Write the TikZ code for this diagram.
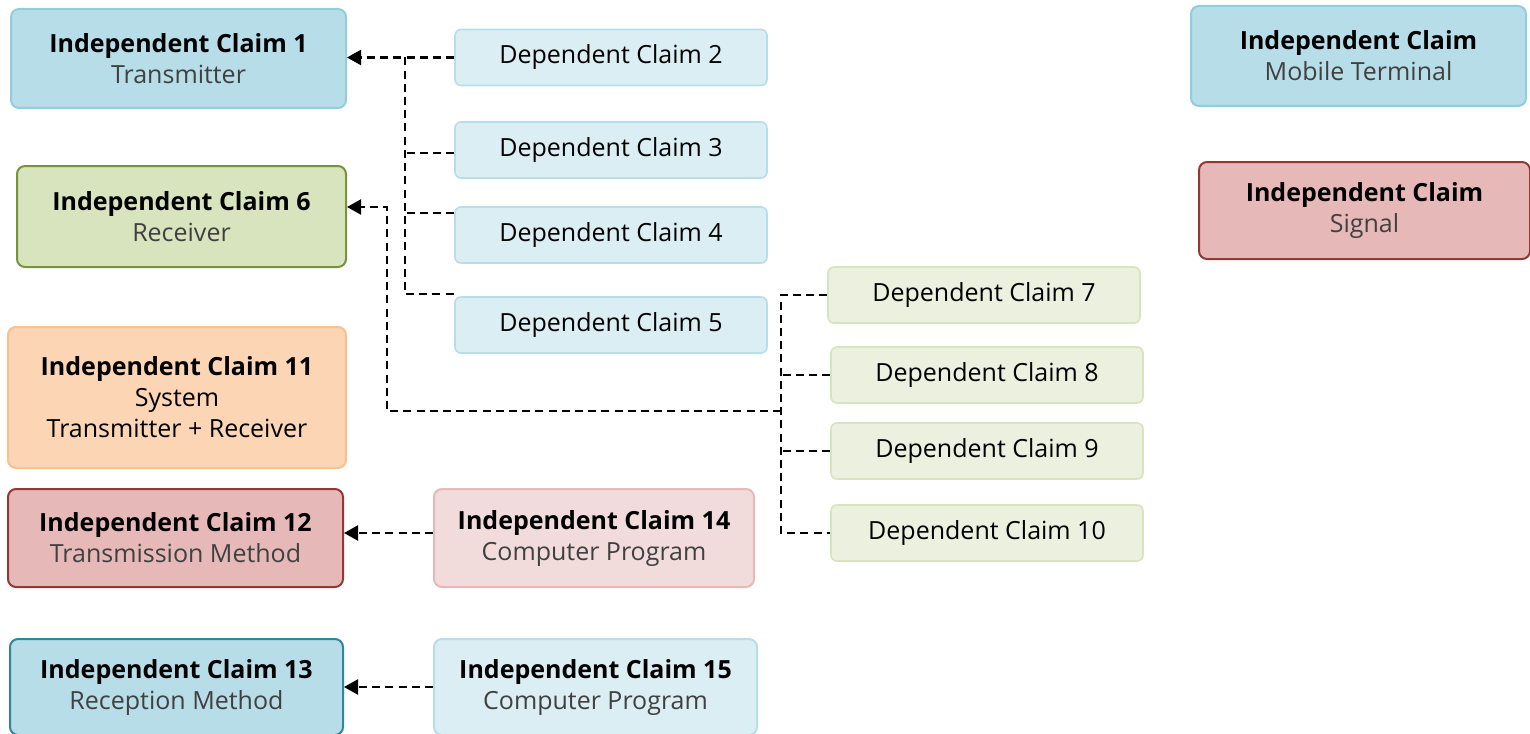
\documentclass[tikz,border=0pt]{standalone}
\usepackage{fontspec}
\setmainfont{Open Sans}
\usepackage{tikz}
\usetikzlibrary{arrows.meta,positioning}
\definecolor{bluF}{HTML}{B7DDE8}
\definecolor{bluE}{HTML}{93CDDD}
\definecolor{bluD}{HTML}{31859C}
\definecolor{grnF}{HTML}{D7E4BD}
\definecolor{grnE}{HTML}{77933C}
\definecolor{orgF}{HTML}{FCD5B5}
\definecolor{orgE}{HTML}{FAC090}
\definecolor{redF}{HTML}{E6B9B8}
\definecolor{redE}{HTML}{953735}
\definecolor{pnkF}{HTML}{F2DCDB}
\definecolor{palB}{HTML}{DBEEF4}
\definecolor{palG}{HTML}{EBF1DE}
\definecolor{subG}{HTML}{404040}

\begin{document}
\begin{tikzpicture}[x=0.5pt,y=-0.5pt,font=\fontsize{12.5}{15.5}\selectfont]
  \tikzset{indep/.style 2 args={draw=#1,fill=#2,line width=1pt,rounded corners=4pt,align=center,inner sep=0pt},
    dep/.style 2 args={draw=#1,fill=#2,line width=0.8pt,rounded corners=3pt,minimum width=156pt,minimum height=28pt,inner sep=0pt},
    link/.style={line width=1.1pt,dash pattern=on 4pt off 2.6pt},
    tip/.style={-{Triangle[length=7pt,width=7.5pt]}}}
  \useasboundingbox (0,0) rectangle (1530,733);
  % independent claims, left column
  \node[indep={bluE}{bluF},minimum width=167.5pt,minimum height=49.5pt] (ic1) at (178.5,58.5) {\textbf{Independent Claim 1}\\{\color{subG}Transmitter}};
  \node[indep={grnE}{grnF},minimum width=164.5pt,minimum height=50.5pt] (ic6) at (181.5,216.5) {\textbf{Independent Claim 6}\\{\color{subG}Receiver}};
  \node[indep={orgE}{orgF},minimum width=169pt,minimum height=70.5pt] (ic11) at (177,397.5) {\textbf{Independent Claim 11}\\System\\Transmitter + Receiver};
  \node[indep={redE}{redF},minimum width=167.5pt,minimum height=49pt] (ic12) at (175.5,538) {\textbf{Independent Claim 12}\\{\color{subG}Transmission Method}};
  \node[indep={bluD}{bluF},minimum width=166.5pt,minimum height=48pt] (ic13) at (176.5,687) {\textbf{Independent Claim 13}\\{\color{subG}Reception Method}};
  \node[indep={redF}{pnkF},minimum width=160pt,minimum height=49pt] (ic14) at (594,538) {\textbf{Independent Claim 14}\\{\color{subG}Computer Program}};
  \node[indep={bluF}{palB},minimum width=161.5pt,minimum height=48pt] (ic15) at (595.5,687) {\textbf{Independent Claim 15}\\{\color{subG}Computer Program}};
  % right column
  \node[indep={bluE}{bluF},minimum width=167.5pt,minimum height=50pt] (icMT) at (1358.5,56) {\textbf{Independent Claim}\\{\color{subG}Mobile Terminal}};
  \node[indep={redE}{redF},minimum width=165.5pt,minimum height=48.5pt] (icSig) at (1364.5,210.5) {\textbf{Independent Claim}\\{\color{subG}Signal}};
  % dependent claims
  \node[dep={bluF}{palB}] (dc2) at (611,57.5) {Dependent Claim 2};
  \node[dep={bluF}{palB}] (dc3) at (611,150) {Dependent Claim 3};
  \node[dep={bluF}{palB}] (dc4) at (611,235) {Dependent Claim 4};
  \node[dep={bluF}{palB}] (dc5) at (611,325) {Dependent Claim 5};
  \node[dep={grnF}{palG}] (dc7) at (984,295) {Dependent Claim 7};
  \node[dep={grnF}{palG}] (dc8) at (987,375) {Dependent Claim 8};
  \node[dep={grnF}{palG}] (dc9) at (987,451) {Dependent Claim 9};
  \node[dep={grnF}{palG}] (dc10) at (987,533) {Dependent Claim 10};
  % claims 2-5 -> claim 1
  \coordinate (busA) at (405,0);
  \coordinate (j3) at ([yshift=-1.5pt]dc3.west);
  \coordinate (j4) at ([yshift=-3.5pt]dc4.north west);
  \coordinate (j5) at ([yshift=1pt]dc5.north west);
  \draw[link,tip] (dc2.west) -- (dc2.west -| ic1.east);
  \draw[link] (dc2.west -| busA) -- (j5 -| busA) -- (j5);
  \draw[link] (j3) -- (j3 -| busA);
  \draw[link] (j4) -- (j4 -| busA);
  % claims 7-10 -> claim 6
  \coordinate (busB) at (781,411);
  \coordinate (turn) at (387,411);
  \coordinate (k6) at ([yshift=4.75pt]ic6.east);
  \draw[link] (dc7.west) -| (busB |- dc10.west) -- (dc10.west);
  \foreach \d in {dc8,dc9} {
    \draw[link] (\d.west) -- (\d.west -| busB);
  }
  \draw[link,tip] (busB) -- (turn) |- (k6);
  % computer programs
  \draw[link,tip] ([yshift=2.5pt]ic14.west) -- ([yshift=2.5pt]ic14.west -| ic12.east);
  \draw[link,tip] (ic15.west) -- (ic15.west -| ic13.east);
\end{tikzpicture}
\end{document}
